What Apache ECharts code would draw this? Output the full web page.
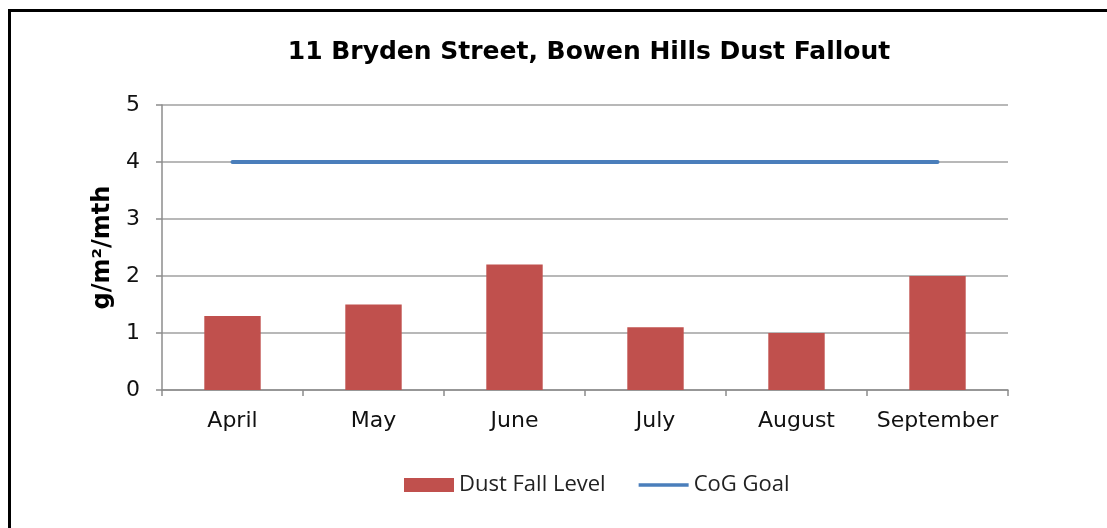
<!DOCTYPE html>
<html>
<head>
<meta charset="utf-8">
<script src="https://cdn.jsdelivr.net/npm/echarts@6/dist/echarts.min.js"></script>
<style>
  html, body { margin: 0; padding: 0; background: #fff; }
  #main { width: 1107px; height: 528px; }
</style>
</head>
<body>
<div id="main"></div>
<script>
// data
var months = ['April', 'May', 'June', 'July', 'August', 'September'];
var dustFall = [1.3, 1.5, 2.2, 1.1, 1.0, 2.0];
var cogGoal = [4, 4, 4, 4, 4, 4];

var chart = echarts.init(document.getElementById('main'));
var font = '"DejaVu Sans", sans-serif';

var option = {
  animation: false,
  backgroundColor: '#fff',
  graphic: [{
    type: 'rect',
    shape: { x: 9.5, y: 10.5, width: 1200, height: 700 },
    style: { fill: 'none', stroke: '#000', lineWidth: 3 },
    silent: true
  }],
  title: {
    text: '11 Bryden Street, Bowen Hills Dust Fallout',
    left: 584,
    textAlign: 'center',
    top: 35,
    textStyle: { fontFamily: font, fontSize: 25, fontWeight: 'bold', color: '#000' }
  },
  grid: { left: 162, right: 99, top: 105, bottom: 138 },
  legend: {
    left: 399,
    top: 469,
    itemWidth: 50,
    itemHeight: 14,
    itemGap: 33,
    textStyle: { fontFamily: '"Open Sans", sans-serif', fontSize: 22, color: '#222' },
    data: [
      { name: 'Dust Fall Level', icon: 'rect' },
      // thin line icon, no marker
      { name: 'CoG Goal', icon: 'path://M0,0 H54 V4 H0 Z' }
    ]
  },
  xAxis: {
    type: 'category',
    data: months,
    axisLine: { lineStyle: { color: '#8c8c8c', width: 1.5 } },
    axisTick: { show: true, length: 6, lineStyle: { color: '#8c8c8c', width: 1.5 } },
    axisLabel: { interval: 0, fontFamily: font, fontSize: 22, color: '#111', margin: 20 }
  },
  yAxis: {
    type: 'value',
    min: 0,
    max: 5,
    interval: 1,
    name: 'g/m²/mth',
    nameLocation: 'middle',
    nameGap: 40,
    nameRotate: 90,
    nameTextStyle: { fontFamily: font, fontSize: 24, fontWeight: 'bold', color: '#000' },
    axisLine: { show: true, lineStyle: { color: '#8c8c8c', width: 1.5 } },
    axisTick: { show: true, length: 6, lineStyle: { color: '#8c8c8c', width: 1.5 } },
    axisLabel: { fontFamily: font, fontSize: 22, color: '#111', margin: 22 },
    splitLine: { lineStyle: { color: '#a0a0a0', width: 1.5 } }
  },
  series: [
    {
      name: 'Dust Fall Level',
      type: 'bar',
      data: dustFall,
      barCategoryGap: '60%',
      itemStyle: { color: '#c0504d' }
    },
    {
      name: 'CoG Goal',
      type: 'line',
      data: cogGoal,
      symbol: 'none',
      lineStyle: { color: '#4a7ebb', width: 4, cap: 'round' },
      itemStyle: { color: '#4a7ebb' }
    }
  ]
};

chart.setOption(option);
</script>
</body>
</html>
